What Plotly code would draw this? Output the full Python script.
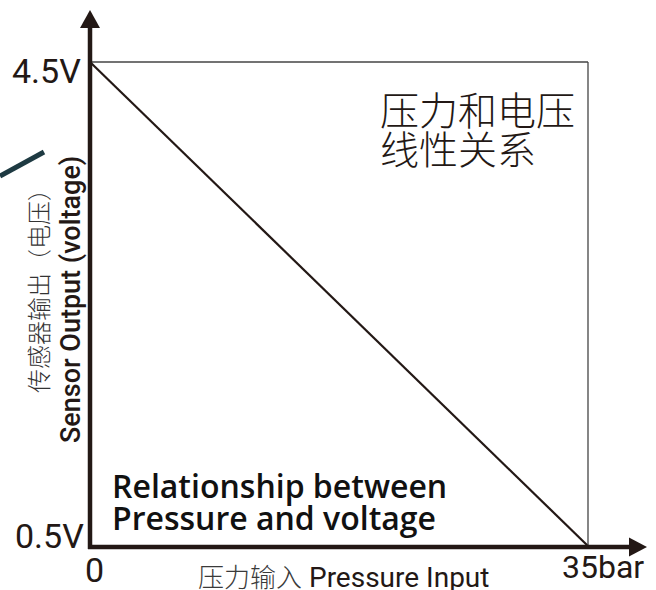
import plotly.graph_objects as go

# ---- data ----
pressure = [0, 35]          # bar
voltage = [4.5, 0.5]        # V
y_ticks = [0.5, 4.5]
y_tick_labels = ["0.5V", "4.5V"]
x_ticks = [0, 35]
x_tick_labels = ["0", "35bar"]
x_title_cn = "压力输入"
x_title_en = "Pressure Input"
y_title_cn = "传感器输出（电压）"
y_title_en = "Sensor Output (voltage)"
note_cn = ["压力和电压", "线性关系"]
note_en = ["Relationship between", "Pressure and voltage"]

W, H = 656, 590
X0PX, X1PX = 90, 588      # pixel positions of x=0 and x=35
Y0PX, Y1PX = 546, 62      # pixel positions of y=0.5 and y=4.5
sx = (X1PX - X0PX) / (x_ticks[1] - x_ticks[0])
sy = (Y0PX - Y1PX) / (y_ticks[1] - y_ticks[0])
xr = [x_ticks[0] - X0PX / sx, x_ticks[0] + (W - X0PX) / sx]
yr = [y_ticks[0] - (H - Y0PX) / sy, y_ticks[1] + Y1PX / sy]

INK = "#231815"
FONT = "Roboto, Noto Sans CJK SC, sans-serif"
CJK = "Noto Sans CJK SC, sans-serif"


def px(xp):
    return xp / W


def py(yp):
    return 1 - yp / H


fig = go.Figure()

# main relationship line
fig.add_trace(go.Scatter(x=pressure, y=voltage, mode="lines",
                         line=dict(color=INK, width=2.2), hoverinfo="skip",
                         showlegend=False))

shapes = []
# frame lines (top and right)
shapes.append(dict(type="line", xref="x", yref="y", x0=x_ticks[0], x1=x_ticks[1],
                   y0=y_ticks[1], y1=y_ticks[1], line=dict(color="#444", width=1.3)))
shapes.append(dict(type="line", xref="x", yref="y", x0=x_ticks[1], x1=x_ticks[1],
                   y0=y_ticks[0], y1=y_ticks[1], line=dict(color="#444", width=1.3)))
# y axis line + arrow
shapes.append(dict(type="line", xref="x", yref="y", x0=0, x1=0,
                   y0=y_ticks[0] - 3 / sy, y1=y_ticks[1] + 37 / sy,
                   line=dict(color=INK, width=4.5)))
shapes.append(dict(type="path", xref="x", yref="y", xsizemode="pixel", ysizemode="pixel",
                   xanchor=0, yanchor=y_ticks[1],
                   path="M -10,34 L 10,34 L 0,52 Z", fillcolor=INK, line=dict(width=0)))
# x axis line + arrow
shapes.append(dict(type="line", xref="x", yref="y", x0=-2 / sx, x1=x_ticks[1] + 44 / sx,
                   y0=y_ticks[0] - 1 / sy, y1=y_ticks[0] - 1 / sy,
                   line=dict(color=INK, width=4.5)))
shapes.append(dict(type="path", xref="x", yref="y", xsizemode="pixel", ysizemode="pixel",
                   xanchor=x_ticks[1], yanchor=y_ticks[0],
                   path="M 41,-10.5 L 41,8.5 L 59,-1 Z", fillcolor=INK, line=dict(width=0)))
# stray cable fragment at the left edge
shapes.append(dict(type="line", xref="paper", yref="paper", x0=0, y0=py(176),
                   x1=px(44), y1=py(152), line=dict(color="#1e3a42", width=5)))

ann = []
# y tick labels
ann.append(dict(x=0, y=y_ticks[1], text=y_tick_labels[1], showarrow=False, xanchor="right",
                yanchor="middle", xshift=-7, yshift=-9, font=dict(family=FONT, size=34, color=INK)))
ann.append(dict(x=0, y=y_ticks[0], text=y_tick_labels[0], showarrow=False, xanchor="right",
                yanchor="middle", xshift=-4, yshift=10, font=dict(family=FONT, size=34, color=INK)))
# x tick labels
ann.append(dict(x=x_ticks[0], y=y_ticks[0], text=x_tick_labels[0], showarrow=False,
                xanchor="center", yanchor="middle", xshift=4, yshift=-24,
                font=dict(family=FONT, size=34, color=INK)))
ann.append(dict(x=x_ticks[1], y=y_ticks[0], text=x_tick_labels[1], showarrow=False,
                xanchor="center", yanchor="middle", xshift=15, yshift=-21,
                font=dict(family=FONT, size=32, color=INK)))
# axis titles
ann.append(dict(xref="paper", yref="paper", x=px(343), y=py(575),
                text=f"<span style='font-family:Noto Sans CJK SC;font-size:26px;color:#3a3a3a;font-weight:300'>{x_title_cn}</span> {x_title_en}",
                showarrow=False, xanchor="center", yanchor="middle",
                font=dict(family=FONT, size=28, color=INK)))
ann.append(dict(xref="paper", yref="paper", x=px(37), y=py(285), text=y_title_cn,
                showarrow=False, textangle=-90, xanchor="center", yanchor="middle",
                font=dict(family=CJK, size=24, color="#333", weight=300)))
ann.append(dict(xref="paper", yref="paper", x=px(71), y=py(300), text=y_title_en,
                showarrow=False, textangle=-90, xanchor="center", yanchor="middle",
                font=dict(family=FONT, size=27, color=INK, weight=500)))
# notes
for line, yc in zip(note_cn, [108, 147]):
    ann.append(dict(xref="paper", yref="paper", x=px(378), y=py(yc), text=line,
                    showarrow=False, xanchor="left", yanchor="middle", align="left",
                    font=dict(family=CJK, size=39, color=INK, weight=300)))
for line, yc in zip(note_en, [485, 517]):
    ann.append(dict(xref="paper", yref="paper", x=px(110), y=py(yc), text=line,
                    showarrow=False, xanchor="left", yanchor="middle", align="left",
                    font=dict(family="Open Sans, Roboto, sans-serif", size=32, color="#111", weight=600)))

fig.update_layout(
    width=W, height=H, margin=dict(l=0, r=0, t=0, b=0),
    paper_bgcolor="white", plot_bgcolor="white",
    xaxis=dict(range=xr, visible=False, fixedrange=True),
    yaxis=dict(range=yr, visible=False, fixedrange=True),
    shapes=shapes, annotations=ann, showlegend=False,
)

fig.write_html("out.html", config={"displayModeBar": False},
               post_script="document.body.style.margin='0px';document.body.style.overflow='hidden';")
